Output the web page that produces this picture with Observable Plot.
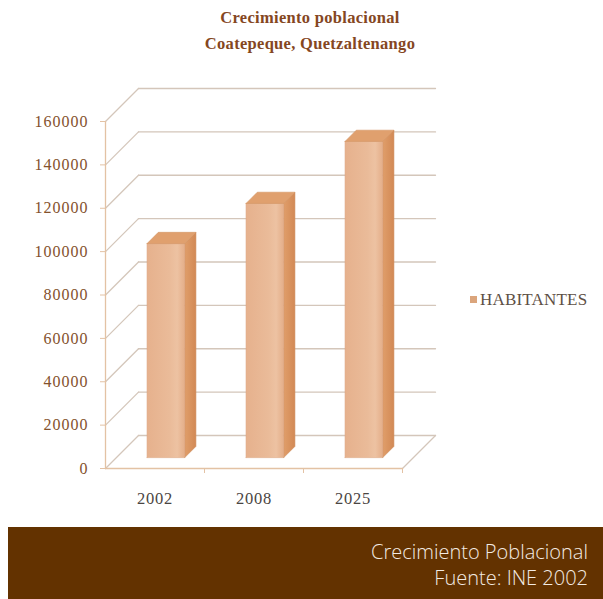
<!DOCTYPE html>
<html><head><meta charset="utf-8">
<script src="https://cdn.jsdelivr.net/npm/d3@7"></script>
<script src="https://cdn.jsdelivr.net/npm/@observablehq/plot@0.6"></script>
<style>
body{margin:0;background:#fff;width:603px;height:599px;overflow:hidden;position:relative;font-family:"Liberation Serif",serif}
#title{position:absolute;left:0;top:0;width:603px;box-sizing:border-box;padding-left:17px;padding-top:5px;text-align:center;font-weight:bold;font-size:16.5px;line-height:26px;color:#85471f;letter-spacing:0.3px}
#chart{position:absolute;left:0;top:60px}
#legend{position:absolute;left:470px;top:290px;font-size:17px;letter-spacing:0.2px;color:#5e4f45;line-height:20px;white-space:nowrap}
#legend span.sw{display:inline-block;width:7px;height:7px;background:#dba57c;margin-right:3px;vertical-align:2px}
#footer{position:absolute;left:8px;top:527px;width:595px;height:72px;box-sizing:border-box;background:#633200;color:#f3ebe3;font-family:"Open Sans",sans-serif;font-weight:300;font-size:20px;line-height:26px;text-align:right;padding-right:15px;padding-top:12px}
g[aria-label="y-axis tick label"] text{letter-spacing:1px}
g[aria-label="x-axis tick label"] text{letter-spacing:0.8px}
</style></head><body>
<div id="title"><div>Crecimiento poblacional</div><div>Coatepeque, Quetzaltenango</div></div>
<div id="chart"></div>
<div id="legend"><span class="sw"></span>HABITANTES</div>
<div id="footer"><div>Crecimiento Poblacional</div><div>Fuente: INE 2002</div></div>
<script>
// ---- data ----
const years = ["2002", "2008", "2025"];
const habitantes = [98700, 117200, 145800];
const yTicks = [0, 20000, 40000, 60000, 80000, 100000, 120000, 140000, 160000];
const seriesName = "HABITANTES";

// ---- oblique projection (depth expressed in data units) ----
const DX = 1 / 3;      // x units per unit of depth
const DY = 15216;      // y units per unit of depth
const proj = (x, y, d) => ({x: x + d * DX, y: y + d * DY});
const nCat = years.length;
const yMax = yTicks[yTicks.length - 1];

// walls
const gridBack = yTicks.flatMap(t => [
  {k: t, ...proj(0, t, 1)}, {k: t, ...proj(nCat, t, 1)}
]);
const leftDiag = yTicks.flatMap(t => [
  {k: t, ...proj(0, t, 0)}, {k: t, ...proj(0, t, 1)}
]);
const floorRight = [proj(nCat, 0, 0), proj(nCat, 0, 1)];
const frontAxis = [proj(0, 0, 0), proj(0, yMax, 0)];
const frontFloor = [proj(0, 0, 0), proj(nCat, 0, 0)];

// bars
const hw = 0.19, d0 = 0.33, d1 = 0.67;
function face(kind) {
  const out = [];
  habitantes.forEach((v, i) => {
    const c = i + 0.5, L = c - hw, R = c + hw;
    let pts;
    if (kind === "front") pts = [proj(L,0,d0), proj(R,0,d0), proj(R,v,d0), proj(L,v,d0)];
    if (kind === "side")  pts = [proj(R,0,d0), proj(R,0,d1), proj(R,v,d1), proj(R,v,d0)];
    if (kind === "top")   pts = [proj(L,v,d0), proj(R,v,d0), proj(R,v,d1), proj(L,v,d1)];
    pts.push(pts[0]);
    pts.forEach(p => out.push({bar: years[i], ...p}));
  });
  return out;
}

const defs = () => {
  const d = d3.create("svg:defs");
  const g = d.append("linearGradient").attr("id", "frontGrad").attr("x1", 0).attr("x2", 1).attr("y1", 0).attr("y2", 0);
  g.append("stop").attr("offset", "0%").attr("stop-color", "#e6b18d");
  g.append("stop").attr("offset", "60%").attr("stop-color", "#eabb99");
  g.append("stop").attr("offset", "80%").attr("stop-color", "#edc2a2");
  g.append("stop").attr("offset", "100%").attr("stop-color", "#e4ae89");
  const s = d.append("linearGradient").attr("id", "sideGrad").attr("x1", 0).attr("x2", 1).attr("y1", 0).attr("y2", 0);
  s.append("stop").attr("offset", "0%").attr("stop-color", "#e09e6a");
  s.append("stop").attr("offset", "100%").attr("stop-color", "#d28955");
  return d.node();
};

const gridColor = "#d4c6ba";
const axisColor = "#e3c2a4";

const chart = Plot.plot({
  width: 603, height: 467,
  marginLeft: 105, marginRight: 201, marginTop: 61, marginBottom: 59,
  x: {domain: [0, nCat], range: [105, 402]},
  y: {domain: [0, yMax], range: [408, 61]},
  style: {background: "transparent", overflow: "visible", fontFamily: "Liberation Serif, serif"},
  marks: [
    defs,
    Plot.line(gridBack, {x: "x", y: "y", z: "k", stroke: gridColor, strokeWidth: 1.3}),
    Plot.line(leftDiag, {x: "x", y: "y", z: "k", stroke: gridColor, strokeWidth: 1.3}),
    Plot.line(floorRight, {x: "x", y: "y", stroke: gridColor, strokeWidth: 1.3}),
    Plot.line(face("side"), {x: "x", y: "y", z: "bar", fill: "url(#sideGrad)", stroke: "#cf8d5c", strokeWidth: 0.6}),
    Plot.line(face("front"), {x: "x", y: "y", z: "bar", fill: "url(#frontGrad)", stroke: "#dba27c", strokeWidth: 0.6}),
    Plot.line(face("top"), {x: "x", y: "y", z: "bar", fill: "#e0a06e", stroke: "#d39462", strokeWidth: 0.6}),
    Plot.line(frontAxis, {x: "x", y: "y", stroke: axisColor, strokeWidth: 1.3}),
    Plot.line(frontFloor, {x: "x", y: "y", stroke: axisColor, strokeWidth: 1.3}),
    Plot.axisY({ticks: yTicks, tickSize: 5, tickPadding: 12, tickFormat: d => String(d), fontSize: 16, stroke: axisColor, fill: "#84512c", label: null}),
    Plot.axisX({ticks: d3.range(1, nCat + 1), tickSize: 5, tickFormat: () => "", stroke: axisColor, label: null}),
    Plot.axisX({ticks: years.map((_, i) => i + 0.5), tickSize: 0, tickPadding: 24, tickFormat: v => years[Math.floor(v)], fontSize: 16.5, fill: "#4a4542", label: null})
  ]
});
document.getElementById("chart").appendChild(chart);
</script>
</body></html>
